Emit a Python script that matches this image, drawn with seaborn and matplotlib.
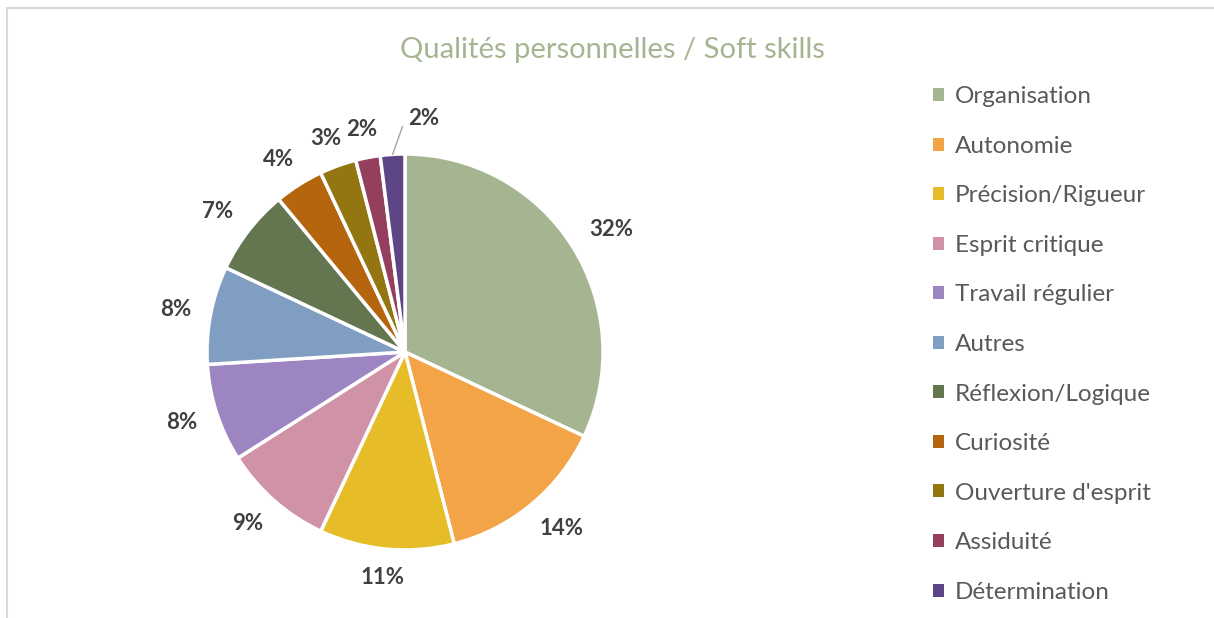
import numpy as np
import matplotlib
matplotlib.use("Agg")
import matplotlib.pyplot as plt
from matplotlib.patches import Patch
from matplotlib.lines import Line2D
import seaborn as sns

categories = ["Organisation", "Autonomie", "Précision/Rigueur", "Esprit critique",
              "Travail régulier", "Autres", "Réflexion/Logique", "Curiosité",
              "Ouverture d'esprit", "Assiduité", "Détermination"]
shares = [32, 14, 11, 9, 8, 8, 7, 4, 3, 2, 2]
slice_colors = ["#A5B592", "#F3A447", "#E7BC29", "#D092A7", "#9C85C0", "#809EC2",
                "#637650", "#B4650E", "#937511", "#953F5E", "#5E4586"]
title = "Qualités personnelles / Soft skills"

sns.set_theme(style="white")
plt.rcParams["font.family"] = ["Lato", "DejaVu Sans"]
palette = sns.color_palette(slice_colors)

W, H = 1214, 618
fig = plt.figure(figsize=(W / 100, H / 100), dpi=100)

# frame (only top and left edges visible in the crop)
fig.add_artist(Line2D([7 / W, 1], [1 - 8 / H, 1 - 8 / H], color="#d9d9d9", lw=1.5))
fig.add_artist(Line2D([7 / W, 7 / W], [0, 1 - 8 / H], color="#d9d9d9", lw=1.5))

cx, cy, R = 405, 352, 198
side = 3 * R
ax = fig.add_axes([(cx - side / 2) / W, (H - cy - side / 2) / H, side / W, side / H])

wedges, _ = ax.pie(shares, colors=palette, startangle=90, counterclock=False,
                   radius=1.0, wedgeprops=dict(edgecolor="white", linewidth=2.5))
ax.set_xlim(-1.5, 1.5)
ax.set_ylim(-1.5, 1.5)
ax.set_aspect("equal")
ax.axis("off")

# data labels: nearest corner of the label box sits just outside the rim
renderer = fig.canvas.get_renderer()
total = sum(shares)
for i, (w, v) in enumerate(zip(wedges, shares)):
    ang = np.deg2rad((w.theta1 + w.theta2) / 2)
    ux, uy = np.cos(ang), np.sin(ang)
    t = ax.text(0, 0, f"{round(100 * v / total)}%", ha="center", va="center",
                fontsize=16, fontweight="bold", color="#404040", clip_on=False)
    bb = t.get_window_extent(renderer)
    hw, hh = bb.width / 2 / R, bb.height / 2 / R * 0.8
    if i == len(shares) - 1:
        ex, ey = ux, uy
        px, py = ex + 10 / R, ey + 28 / R
        ax.plot([ex, px], [ey, py], color="#a6a6a6", lw=1, clip_on=False)
        t.set_position((px + 6 / R + hw, py + hh - 1 / R))
        continue
    m = max(abs(ux), abs(uy))
    t.set_position((1.10 * ux + hw * ux / m, 1.10 * uy + hh * uy / m))

fig.text(612 / W, 1 - 50 / H, title, ha="center", va="center", fontsize=21, color="#A5B592")

handles = [Patch(facecolor=c, edgecolor="none") for c in palette]
fig.legend(handles, categories, loc="upper left", bbox_to_anchor=(921 / W, 1 - 74 / H),
           frameon=False, fontsize=17.5, labelcolor="#595959", labelspacing=1.175,
           handlelength=0.45, handleheight=0.45, handletextpad=0.45, borderpad=0)

fig.savefig("out.png", dpi=100, facecolor="white")
